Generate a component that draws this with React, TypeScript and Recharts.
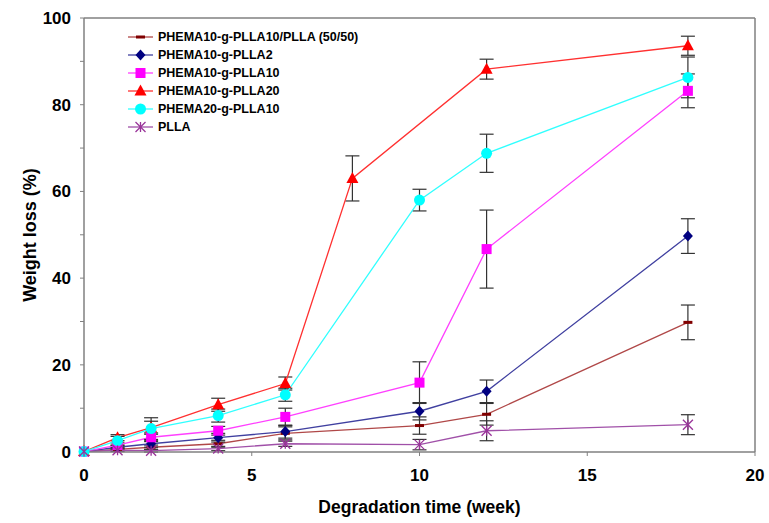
import { LineChart, Line, XAxis, YAxis, ErrorBar, ReferenceLine, Legend } from "recharts";

// degradation weeks (PHEMA10-g-PLLA20 was sampled at week 8 instead of 10)
const weeks = [0, 1, 2, 4, 6, 10, 12, 18];
const weeksPlla20 = [0, 1, 2, 4, 6, 8, 12, 18];

const blendLoss = [0, 0.5, 1.0, 1.8, 4.2, 6.0, 8.6, 29.8];
const blendErr = [0, 0.3, 0.5, 0.8, 1.5, 2.0, 2.5, 4.0];
const plla2Loss = [0, 1.0, 1.8, 3.2, 4.6, 9.3, 13.9, 49.7];
const plla2Err = [0, 0.4, 0.8, 1.0, 1.5, 2.0, 2.6, 4.0];
const plla10Loss = [0, 1.5, 3.3, 4.8, 8.0, 15.9, 46.7, 83.2];
const plla10Err = [0, 0.5, 1.0, 1.0, 2.0, 4.8, 9.0, 3.9];
const plla20Loss = [0, 3.2, 5.5, 10.8, 15.7, 63.0, 88.2, 93.6];
const plla20Err = [0, 0.7, 1.5, 1.5, 1.5, 5.2, 2.3, 2.2];
const phema20Loss = [0, 2.5, 5.3, 8.3, 13.1, 58.0, 68.8, 86.3];
const phema20Err = [0, 1.0, 2.5, 1.5, 1.5, 2.5, 4.4, 4.7];
const pllaLoss = [0, 0.3, 0.2, 0.7, 1.8, 1.6, 4.8, 6.2];
const pllaErr = [0, 0.3, 0.3, 0.5, 0.6, 1.2, 2.3, 2.3];

const xTicks = [0, 5, 10, 15, 20];
const yTicks = [0, 10, 20, 30, 40, 50, 60, 70, 80, 90, 100];

type Shape = "dash" | "diamond" | "square" | "triangle" | "circle" | "star";

const toPoints = (xs: number[], ys: number[], es: number[]) =>
  xs.map((x, i) => ({ x, y: ys[i], err: es[i] }));

const series = [
  { name: "PHEMA10-g-PLLA10/PLLA (50/50)", line: "#b04848", mark: "#800000", shape: "dash" as Shape, data: toPoints(weeks, blendLoss, blendErr) },
  { name: "PHEMA10-g-PLLA2", line: "#4040a0", mark: "#000080", shape: "diamond" as Shape, data: toPoints(weeks, plla2Loss, plla2Err) },
  { name: "PHEMA10-g-PLLA10", line: "#ff40ff", mark: "#ff00ff", shape: "square" as Shape, data: toPoints(weeks, plla10Loss, plla10Err) },
  { name: "PHEMA10-g-PLLA20", line: "#ff3030", mark: "#ff0000", shape: "triangle" as Shape, data: toPoints(weeksPlla20, plla20Loss, plla20Err) },
  { name: "PHEMA20-g-PLLA10", line: "#30ffff", mark: "#00ffff", shape: "circle" as Shape, data: toPoints(weeks, phema20Loss, phema20Err) },
  { name: "PLLA", line: "#a050a8", mark: "#993399", shape: "star" as Shape, data: toPoints(weeks, pllaLoss, pllaErr) },
];

function Marker({ cx, cy, shape, color }: { cx: number; cy: number; shape: Shape; color: string }) {
  switch (shape) {
    case "dash":
      return <rect x={cx - 4.5} y={cy - 1.5} width={9} height={3} fill={color} />;
    case "diamond":
      return <polygon points={`${cx},${cy - 5.5} ${cx + 5},${cy} ${cx},${cy + 5.5} ${cx - 5},${cy}`} fill={color} />;
    case "square":
      return <rect x={cx - 5} y={cy - 5} width={10} height={10} fill={color} />;
    case "triangle":
      return <polygon points={`${cx},${cy - 6.5} ${cx + 6},${cy + 4.5} ${cx - 6},${cy + 4.5}`} fill={color} />;
    case "circle":
      return <circle cx={cx} cy={cy} r={5.5} fill={color} />;
    default:
      return (
        <g stroke={color} strokeWidth={1.3}>
          <line x1={cx - 5} y1={cy - 5} x2={cx + 5} y2={cy + 5} />
          <line x1={cx - 5} y1={cy + 5} x2={cx + 5} y2={cy - 5} />
          <line x1={cx} y1={cy - 5} x2={cx} y2={cy + 5} />
        </g>
      );
  }
}

const font = "'Liberation Sans', Arial, sans-serif";

function LegendBox() {
  return (
    <div style={{ fontFamily: font, fontWeight: 700, fontSize: 12.5, color: "#000" }}>
      {series.map((s) => (
        <div key={s.name} style={{ display: "flex", alignItems: "center", height: 18 }}>
          <svg width={26} height={14} style={{ marginRight: 4 }}>
            <line x1={0} y1={7} x2={25} y2={7} stroke={s.line} strokeWidth={1.3} />
            <Marker cx={12.5} cy={7} shape={s.shape} color={s.mark} />
          </svg>
          <span>{s.name}</span>
        </div>
      ))}
    </div>
  );
}

const frame = "#808080";

export default function App() {
  return (
    <div style={{ position: "absolute", left: 0, top: 0, background: "#fff" }}>
      <LineChart width={769} height={523} margin={{ top: 18, right: 14, bottom: 41, left: 0 }}>
        <XAxis
          dataKey="x"
          type="number"
          domain={[0, 20]}
          ticks={xTicks}
          allowDuplicatedCategory={false}
          height={30}
          tickSize={4}
          tickMargin={13}
          tick={{ fill: "#000", fontSize: 17, fontWeight: 700, fontFamily: font }}
          tickLine={{ stroke: frame }}
          axisLine={{ stroke: frame, strokeWidth: 1.5 }}
          label={{
            value: "Degradation time (week)",
            position: "insideBottom",
            offset: -31,
            style: { fill: "#000", fontSize: 17.5, fontWeight: 700, fontFamily: font },
          }}
        />
        <YAxis
          type="number"
          domain={[0, 100]}
          ticks={yTicks}
          interval={0}
          width={84}
          tickSize={4}
          tickMargin={9}
          tickFormatter={(v: number) => (v % 20 === 0 ? String(v) : "")}
          tick={{ fill: "#000", fontSize: 17, fontWeight: 700, fontFamily: font }}
          tickLine={{ stroke: frame }}
          axisLine={{ stroke: frame, strokeWidth: 1.5 }}
          label={{
            value: "Weight loss (%)",
            angle: -90,
            position: "insideLeft",
            offset: 30,
            style: { textAnchor: "middle", fill: "#000", fontSize: 18, fontWeight: 700, fontFamily: font },
          }}
        />
        <ReferenceLine y={100} stroke={frame} strokeWidth={1.5} />
        <ReferenceLine x={20} stroke={frame} strokeWidth={1.5} />
        <Legend
          layout="vertical"
          align="center"
          verticalAlign="middle"
          wrapperStyle={{ left: 128, top: 28, width: 260 }}
          content={() => <LegendBox />}
        />
        {series.map((s) => (
          <Line
            key={s.name}
            data={s.data}
            dataKey="y"
            name={s.name}
            stroke={s.line}
            strokeWidth={1.3}
            isAnimationActive={false}
            dot={(p: any) => <Marker key={`${s.name}-${p.index}`} cx={p.cx} cy={p.cy} shape={s.shape} color={s.mark} />}
            activeDot={false}
          >
            <ErrorBar dataKey="err" direction="y" width={7} stroke="#333" strokeWidth={1.2} />
          </Line>
        ))}
      </LineChart>
    </div>
  );
}
